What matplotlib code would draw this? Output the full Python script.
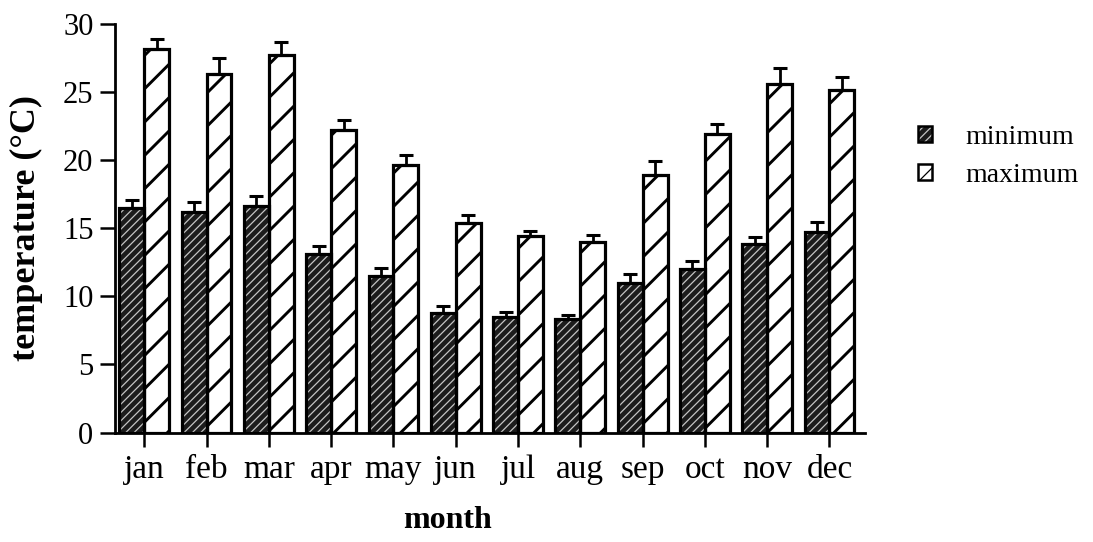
import matplotlib
matplotlib.use("Agg")
import matplotlib.pyplot as plt
from matplotlib.patches import Patch
from matplotlib.legend_handler import HandlerTuple
import numpy as np

# Monthly mean temperatures (°C) with upper error bars
months = ["jan", "feb", "mar", "apr", "may", "jun",
          "jul", "aug", "sep", "oct", "nov", "dec"]
t_min = [16.5, 16.2, 16.6, 13.1, 11.5, 8.8, 8.5, 8.3, 11.0, 12.0, 13.8, 14.7]
t_min_err = [0.55, 0.7, 0.75, 0.55, 0.55, 0.45, 0.35, 0.35, 0.6, 0.55, 0.55, 0.75]
t_max = [28.1, 26.3, 27.7, 22.2, 19.6, 15.4, 14.4, 14.0, 18.9, 21.9, 25.55, 25.1]
t_max_err = [0.75, 1.2, 0.95, 0.7, 0.75, 0.55, 0.4, 0.5, 1.0, 0.75, 1.2, 1.0]
y_ticks = [0, 5, 10, 15, 20, 25, 30]

plt.rcParams["font.family"] = ["Liberation Serif", "DejaVu Serif"]

fig = plt.figure(figsize=(10.93, 5.42), dpi=100)
ax = fig.add_axes([0.1052, 0.202, 0.6862, 0.7546])

x = np.arange(len(months))
w = 0.4
dark = "#1c1c1c"
stripe = "#c4c4c4"

def hatch_lw(patches, lw):
    for p in patches:
        if hasattr(p, "set_hatch_linewidth"):
            p.set_hatch_linewidth(lw)

# minimum: dark fill with light fine stripes, then a black outline on top
plt.rcParams["hatch.linewidth"] = 0.9
mn_fill = ax.bar(x - w / 2, t_min, w, facecolor=dark, edgecolor=stripe,
                 hatch="////", linewidth=0, zorder=2)
hatch_lw(mn_fill, 0.9)
mn_edge = ax.bar(x - w / 2, t_min, w, fill=False, edgecolor="black",
                 linewidth=2.3, zorder=3)

# maximum: white with bold sparse stripes
mx = ax.bar(x + w / 2, t_max, w, facecolor="white", edgecolor="black",
            hatch="/", linewidth=2.3, zorder=2)
hatch_lw(mx, 2.1)

err_kw = dict(fmt="none", ecolor="black", elinewidth=2.0, capsize=5,
              capthick=2.2, zorder=4)
ax.errorbar(x - w / 2, t_min, yerr=[np.zeros(len(t_min)), t_min_err], **err_kw)
ax.errorbar(x + w / 2, t_max, yerr=[np.zeros(len(t_max)), t_max_err], **err_kw)

ax.set_xlim(-0.47, 11.57)
ax.set_ylim(0, 30)
ax.set_yticks(y_ticks)
ax.set_xticks(x)
ax.set_xticklabels(months)

for side in ("top", "right"):
    ax.spines[side].set_visible(False)
for side in ("left", "bottom"):
    ax.spines[side].set_linewidth(2.0)

ax.tick_params(axis="y", direction="out", length=10.5, width=1.8, pad=5,
               labelsize=22)
ax.tick_params(axis="x", direction="out", length=10, width=1.8, pad=6,
               labelsize=24)

ax.set_xlabel("month", fontsize=23, fontweight="bold")
ax.xaxis.set_label_coords(0.443, -0.18)
ax.set_ylabel("temperature (°C)", fontsize=26, fontweight="bold")
ax.yaxis.set_label_coords(-0.096, 0.5)

h_min = (Patch(facecolor=dark, edgecolor=stripe, hatch="////", linewidth=0),
         Patch(fill=False, edgecolor="black", linewidth=1.8))
h_max = Patch(facecolor="white", edgecolor="black", hatch="//", linewidth=1.8)
leg = fig.legend([h_min, h_max], ["minimum", "maximum"],
                 handler_map={tuple: HandlerTuple(ndivide=1)},
                 loc="upper left", bbox_to_anchor=(0.817, 0.816),
                 frameon=False, fontsize=20, handlelength=0.5,
                 handleheight=0.5, handletextpad=1.2, labelspacing=0.47)

fig.savefig("out.png", dpi=100, facecolor="white")
